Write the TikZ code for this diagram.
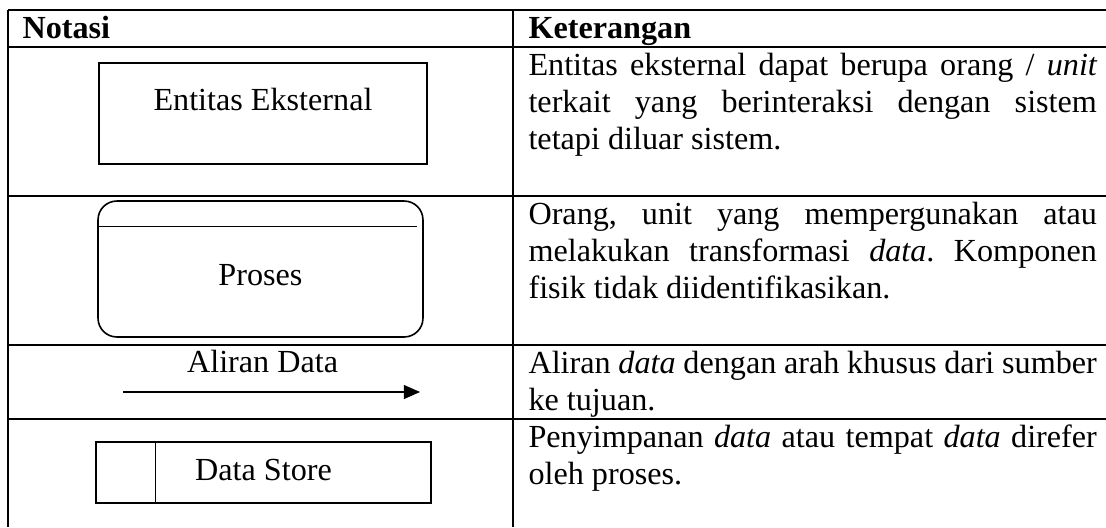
\documentclass[tikz,border=0pt]{standalone}
\usepackage{fontspec}
\setmainfont{Liberation Serif}
\usetikzlibrary{arrows.meta,positioning,calc}
\tolerance=9999
\hyphenpenalty=10000
\frenchspacing

\begin{document}
\begin{tikzpicture}
[x=.373pt,y=-.373pt,
every node/.style={text=black,font=\fontsize{12pt}{13.8pt}\selectfont},
grid/.style={line width=.75pt},
head/.style={anchor=north west,inner sep=0pt,font=\fontsize{12pt}{13.8pt}\selectfont\bfseries},
explain/.style={anchor=north west,inner sep=0pt,text width=212pt,align=justify},
symbol/.style={draw,line width=.6pt,inner sep=0pt,text height=8pt},
flow/.style={line width=.4pt,-{Triangle[length=6pt,width=5.2pt]}}]

\useasboundingbox (0,0) rectangle (1106,527);

%% table rules
\foreach \y in {10,47,196,345,419}
  \draw[grid] (8,\y) -- (1106,\y);
\draw[grid] (8,10) -- (8,527);
\draw[grid] (513,10) -- (513,527);

%% header
\node[head] (notasi) at (22,12) {\strut Notasi};
\node[head] (ket) at (528,12) {\strut Keterangan};

%% notation column
\node[symbol,minimum width=122.3pt,minimum height=37.7pt,text depth=10pt] (ent) at (263,113.5) {Entitas Eksternal};
%%
\node[symbol,rounded corners=7pt,minimum width=121.2pt,minimum height=50.7pt,text height=12pt,text depth=0pt] (proc) at (260.5,269) {Proses};
\draw[line width=.4pt] ([yshift=-9.7pt]proc.north west) -- ([xshift=-2.6pt,yshift=-9.7pt]proc.north east);
%%
\coordinate (flowstart) at (123,392);
\coordinate (flowend) at (420,392);
\draw[flow] (flowstart) -- node[above=7pt,inner sep=0pt,pos=.47] (flowlabel) {Aliran Data} (flowend);
%%
\node[symbol,minimum width=125pt,minimum height=22.8pt,text depth=2pt] (store) at (263.5,472.5) {Data Store};
\draw[line width=.5pt] ([xshift=22.4pt]store.north west) -- ([xshift=22.4pt]store.south west);

%% description column
\node[explain] (dent) at (528,49) {\strut Entitas eksternal dapat berupa orang / \textit{unit} terkait yang berinteraksi dengan sistem tetapi diluar sistem.};
\node[explain] (dproc) at (528,198) {\strut Orang, unit yang mempergunakan atau melakukan transformasi \textit{data}. Komponen fisik tidak diidentifikasikan.};
\node[explain] (dflow) at (528,347) {\strut Aliran \textit{data} dengan arah khusus dari sumber ke tujuan.};
\node[explain] (dstore) at (528,421) {\strut Penyimpanan \textit{data} atau tempat \textit{data} direfer oleh proses.};

\end{tikzpicture}
\end{document}
